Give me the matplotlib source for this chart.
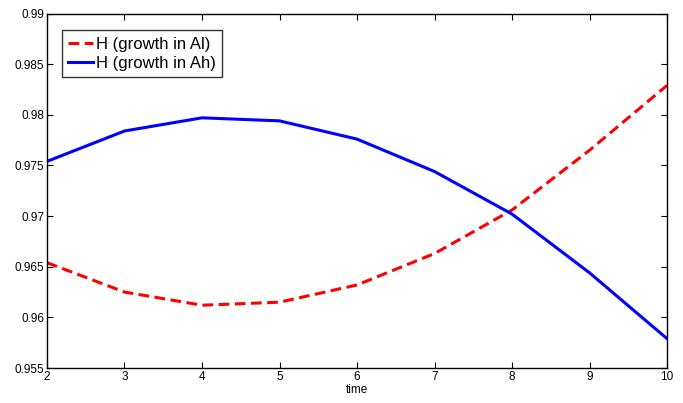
import matplotlib
matplotlib.use('Agg')
import matplotlib.pyplot as plt

plt.rcParams['font.family'] = ['Liberation Sans', 'DejaVu Sans']

# Data
time = [2, 3, 4, 5, 6, 7, 8, 9, 10]
h_al = [0.9654, 0.9625, 0.9612, 0.9615, 0.9632, 0.9663, 0.9706, 0.9765, 0.9829]
h_ah = [0.9754, 0.9784, 0.9797, 0.9794, 0.9776, 0.9744, 0.9702, 0.9644, 0.9579]
yticks = [0.955, 0.96, 0.965, 0.97, 0.975, 0.98, 0.985, 0.99]
ytick_labels = ['0.955', '0.96', '0.965', '0.97', '0.975', '0.98', '0.985', '0.99']

fig = plt.figure(figsize=(6.83, 4.03), dpi=100)
ax = fig.add_axes([0.0688, 0.0868, 0.9078, 0.8797])

ax.plot(time, h_al, color='#ff0000', linestyle='--', linewidth=2.2, dashes=(3.5, 1.8), label='H (growth in Al)')
ax.plot(time, h_ah, color='#0000ff', linewidth=2.2, label='H (growth in Ah)')

ax.set_xlim(2, 10)
ax.set_ylim(0.955, 0.99)
ax.set_xticks(time)
ax.set_yticks(yticks)
ax.set_yticklabels(ytick_labels)
ax.tick_params(direction='in', top=True, right=True, labelsize=8.5, length=4, pad=2)
ax.set_xlabel('time', fontsize=8.5, labelpad=1)

leg = ax.legend(loc='upper left', fontsize=12, frameon=True, fancybox=False,
                edgecolor='black', handlelength=1.5, handletextpad=0.15,
                borderpad=0.4, labelspacing=0.25, bbox_to_anchor=(0.01, 0.977))
leg.get_frame().set_linewidth(1.0)

for s in ax.spines.values():
    s.set_linewidth(1.0)

plt.savefig('out.png', dpi=100)
